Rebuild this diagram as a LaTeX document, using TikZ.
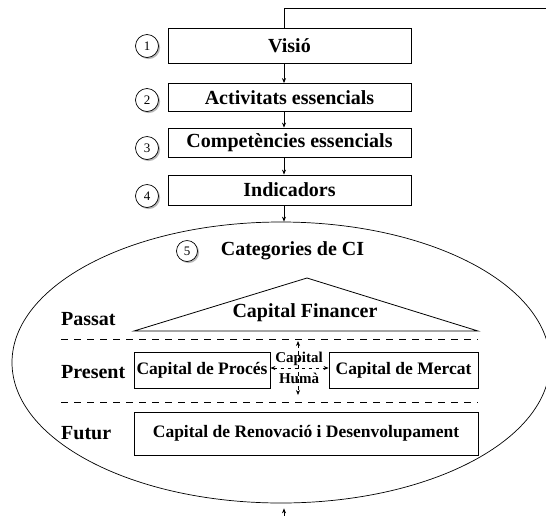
\documentclass[tikz,border=0pt]{standalone}
\usepackage{fontspec}
\setmainfont{Liberation Serif}
\usetikzlibrary{arrows.meta,shapes.geometric,shadows}
\tikzset{
  stagebox/.style={draw,line width=0.8pt,minimum width=243pt,inner sep=0pt,
    font=\bfseries\fontsize{20}{24}\selectfont},
  numcirc/.style={circle,draw,line width=0.7pt,fill=white,minimum size=23pt,inner sep=0pt,
    font=\fontsize{13}{15}\selectfont,
    drop shadow={shadow xshift=1.6pt,shadow yshift=-1.6pt,fill=gray!70,opacity=0.8}},
  catbox/.style={draw,line width=0.8pt,inner sep=0pt,minimum height=36pt,
    font=\bfseries\fontsize{17.5}{20}\selectfont},
  rowlabel/.style={anchor=west,inner sep=0pt,font=\bfseries\fontsize{20}{24}\selectfont},
  flow/.style={-{Stealth[length=5pt,width=4pt]},line width=0.7pt},
  sep/.style={dash pattern=on 7pt off 6pt,line width=0.8pt},
  hub/.style={dash pattern=on 3.5pt off 3.5pt,line width=0.7pt,
    {Stealth[length=5pt,width=4pt]}-{Stealth[length=5pt,width=4pt]}}
}
\begin{document}
\begin{tikzpicture}[x=1pt,y=-1pt]
\useasboundingbox (0,0) rectangle (546,515);
% axis for vertical connectors
\coordinate (axis) at (284,0);
% stage boxes
\node[stagebox,minimum height=35pt] (visio) at (289.5,45.5) {Visió};
\node[stagebox,minimum height=28pt] (activ) at (289.5,97.5) {Activitats essencials};
\node[stagebox,minimum height=29pt] (compet) at (289.5,142.5) {Competències essencials};
\node[stagebox,minimum height=30pt] (indic) at (289.5,190) {Indicadors};
% number circles
\node[numcirc] (n1) at (147,46) {1};
\node[numcirc] (n2) at (147,100) {2};
\node[numcirc] (n3) at (147,148) {3};
\node[numcirc] (n4) at (147,196) {4};
% feedback line at the top
\coordinate (fbturn) at (284,8);
\coordinate (fbend) at (560,8);
\draw[line width=0.8pt] (visio.north -| axis) -- (fbturn) -- (fbend);
% arrows between stages
\draw[flow] (visio.south -| axis) -- (activ.north -| axis);
\draw[flow] (activ.south -| axis) -- (compet.north -| axis);
\draw[flow] (compet.south -| axis) -- (indic.north -| axis);
% ellipse
\node[ellipse,draw,line width=0.7pt,minimum width=538pt,minimum height=281pt,inner sep=0pt] (ell) at (281,362.5) {};
\draw[flow] (indic.south -| axis) -- (ell.north -| axis);
\coordinate (bottom) at (284,518);
\draw[flow,shorten >=5pt] (bottom) -- (ell.south -| axis);
% title of category section
\node[numcirc,minimum size=21pt] (n5) at (187,251) {5};
\node[inner sep=0pt,font=\bfseries\fontsize{20}{24}\selectfont] (cat) at (292.5,251) {Categories de CI};
% past: capital financer triangle
\coordinate (apex) at (307,278);
\coordinate (bl) at (134,331);
\coordinate (br) at (478,331);
\draw[line width=0.8pt] (bl) -- (apex) -- (br) -- cycle;
\node[inner sep=0pt,font=\bfseries\fontsize{20}{24}\selectfont] (fin) at (305,313) {Capital Financer};
\node[rowlabel] (passat) at (61,319) {Passat};
% separators
\coordinate (s1a) at (61,339.5);
\coordinate (s1b) at (478,339.5);
\draw[sep] (s1a) -- (s1b);
\coordinate (s2a) at (61,402);
\coordinate (s2b) at (478,402);
\draw[sep] (s2a) -- (s2b);
% present
\node[rowlabel] (present) at (61,372) {Present};
\node[catbox,minimum width=136pt] (proces) at (202,370) {Capital de Procés};
\node[catbox,minimum width=149pt] (mercat) at (403.5,370) {Capital de Mercat};
\node[inner sep=0pt,font=\bfseries\fontsize{15}{17}\selectfont] (humcap) at (299,359) {Capital};
\node[inner sep=0pt,font=\bfseries\fontsize{15}{17}\selectfont] (humhuma) at (299,378.5) {Humà};
\coordinate (hubc) at (298,368);
\coordinate (hubup) at (298,341);
\coordinate (hubdown) at (298,395);
\draw[hub] (proces.east |- hubc) -- (mercat.west |- hubc);
\draw[hub] (hubup) -- (hubdown);
% future
\node[rowlabel] (futur) at (61,433) {Futur};
\node[catbox,minimum width=344pt,minimum height=43pt] (rd) at (306,433.5) {Capital de Renovació i Desenvolupament};
\end{tikzpicture}
\end{document}
